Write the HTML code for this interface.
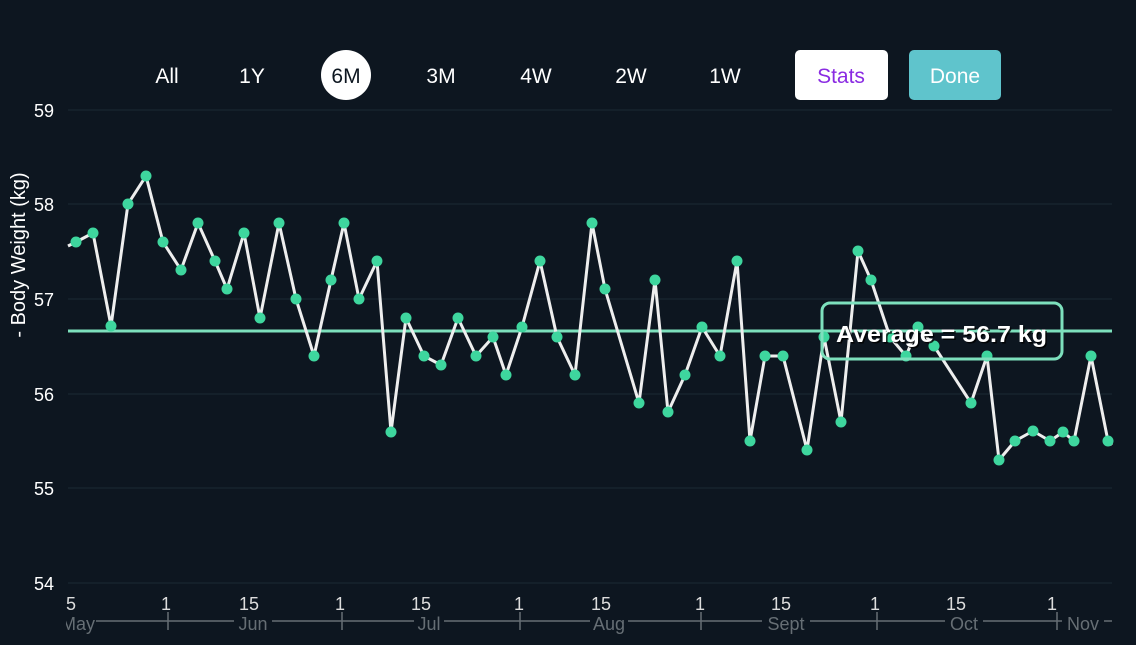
<!DOCTYPE html>
<html><head><meta charset="utf-8"><style>
body{margin:0;background:#0d1620;width:1136px;height:640px;overflow:hidden;font-family:"Liberation Sans",sans-serif}
</style></head><body>
<svg width="1136" height="640" xmlns="http://www.w3.org/2000/svg" font-family="Liberation Sans, sans-serif">
<rect width="1136" height="640" fill="#0d1620"/>
<g fill="#fff" font-size="21" text-anchor="middle">
<text x="167" y="83">All</text><text x="252" y="83">1Y</text>
<circle cx="346" cy="75" r="25" fill="#fff"/><text x="346" y="83" fill="#0d1620">6M</text>
<text x="441" y="83">3M</text><text x="536" y="83">4W</text><text x="631" y="83">2W</text><text x="725" y="83">1W</text>
<rect x="795" y="50" width="93" height="50" rx="5" fill="#fff"/><text x="841" y="83" fill="#8a2be2">Stats</text>
<rect x="909" y="50" width="92" height="50" rx="5" fill="#5fc4cc"/><text x="955" y="83">Done</text>
</g>
<g stroke="#1c2a33" stroke-width="1">
<line x1="68" x2="1112" y1="110" y2="110"/><line x1="68" x2="1112" y1="204" y2="204"/><line x1="68" x2="1112" y1="299" y2="299"/><line x1="68" x2="1112" y1="394" y2="394"/><line x1="68" x2="1112" y1="488" y2="488"/><line x1="68" x2="1112" y1="583" y2="583"/>
</g>
<g fill="#fff" font-size="18" text-anchor="end">
<text x="54" y="117">59</text><text x="54" y="211">58</text><text x="54" y="306">57</text><text x="54" y="401">56</text><text x="54" y="495">55</text><text x="54" y="590">54</text>
</g>
<text transform="translate(25,255) rotate(-90)" fill="#fff" font-size="20" text-anchor="middle">- Body Weight (kg)</text>
<line x1="68" x2="1112" y1="331" y2="331" stroke="#7de0bd" stroke-width="3"/>
<polyline fill="none" stroke="#eee" stroke-width="3" stroke-linejoin="round" points="68,246 76,242 93,233 111,326 128,204 146,176 163,242 181,270 198,223 215,261 227,289 244,233 260,318 279,223 296,299 314,356 331,280 344,223 359,299 377,261 391,432 406,318 424,356 441,365 458,318 476,356 493,337 506,375 522,327 540,261 557,337 575,375 592,223 605,289 639,403 655,280 668,412 685,375 702,327 720,356 737,261 750,441 765,356 783,356 807,450 824,337 841,422 858,251 871,280 890,337 906,356 918,327 934,346 971,403 987,356 999,460 1015,441 1033,431 1050,441 1063,432 1074,441 1091,356 1108,441 1112,445"/>
<g fill="#3ed69e">
<circle cx="76" cy="242" r="5.5"/><circle cx="93" cy="233" r="5.5"/><circle cx="111" cy="326" r="5.5"/><circle cx="128" cy="204" r="5.5"/><circle cx="146" cy="176" r="5.5"/><circle cx="163" cy="242" r="5.5"/><circle cx="181" cy="270" r="5.5"/><circle cx="198" cy="223" r="5.5"/><circle cx="215" cy="261" r="5.5"/><circle cx="227" cy="289" r="5.5"/><circle cx="244" cy="233" r="5.5"/><circle cx="260" cy="318" r="5.5"/><circle cx="279" cy="223" r="5.5"/><circle cx="296" cy="299" r="5.5"/><circle cx="314" cy="356" r="5.5"/><circle cx="331" cy="280" r="5.5"/><circle cx="344" cy="223" r="5.5"/><circle cx="359" cy="299" r="5.5"/><circle cx="377" cy="261" r="5.5"/><circle cx="391" cy="432" r="5.5"/><circle cx="406" cy="318" r="5.5"/><circle cx="424" cy="356" r="5.5"/><circle cx="441" cy="365" r="5.5"/><circle cx="458" cy="318" r="5.5"/><circle cx="476" cy="356" r="5.5"/><circle cx="493" cy="337" r="5.5"/><circle cx="506" cy="375" r="5.5"/><circle cx="522" cy="327" r="5.5"/><circle cx="540" cy="261" r="5.5"/><circle cx="557" cy="337" r="5.5"/><circle cx="575" cy="375" r="5.5"/><circle cx="592" cy="223" r="5.5"/><circle cx="605" cy="289" r="5.5"/><circle cx="639" cy="403" r="5.5"/><circle cx="655" cy="280" r="5.5"/><circle cx="668" cy="412" r="5.5"/><circle cx="685" cy="375" r="5.5"/><circle cx="702" cy="327" r="5.5"/><circle cx="720" cy="356" r="5.5"/><circle cx="737" cy="261" r="5.5"/><circle cx="750" cy="441" r="5.5"/><circle cx="765" cy="356" r="5.5"/><circle cx="783" cy="356" r="5.5"/><circle cx="807" cy="450" r="5.5"/><circle cx="824" cy="337" r="5.5"/><circle cx="841" cy="422" r="5.5"/><circle cx="858" cy="251" r="5.5"/><circle cx="871" cy="280" r="5.5"/><circle cx="890" cy="337" r="5.5"/><circle cx="906" cy="356" r="5.5"/><circle cx="918" cy="327" r="5.5"/><circle cx="934" cy="346" r="5.5"/><circle cx="971" cy="403" r="5.5"/><circle cx="987" cy="356" r="5.5"/><circle cx="999" cy="460" r="5.5"/><circle cx="1015" cy="441" r="5.5"/><circle cx="1033" cy="431" r="5.5"/><circle cx="1050" cy="441" r="5.5"/><circle cx="1063" cy="432" r="5.5"/><circle cx="1074" cy="441" r="5.5"/><circle cx="1091" cy="356" r="5.5"/><circle cx="1108" cy="441" r="5.5"/>
</g>
<rect x="822" y="303" width="240" height="56" rx="8" fill="none" stroke="#7de0bd" stroke-width="3"/>
<text x="836" y="342" fill="#000" font-size="23" font-weight="bold" opacity="0.8" textLength="211" lengthAdjust="spacingAndGlyphs" transform="translate(1.5,1.5)">Average = 56.7 kg</text>
<text x="836" y="342" fill="#fff" font-size="23" font-weight="bold" textLength="211" lengthAdjust="spacingAndGlyphs">Average = 56.7 kg</text>
<g fill="#ddd" font-size="18" text-anchor="middle">
<text x="71" y="610">5</text><text x="166" y="610">1</text><text x="249" y="610">15</text><text x="340" y="610">1</text><text x="421" y="610">15</text><text x="519" y="610">1</text><text x="601" y="610">15</text><text x="700" y="610">1</text><text x="781" y="610">15</text><text x="875" y="610">1</text><text x="956" y="610">15</text><text x="1052" y="610">1</text>
</g>
<g stroke="#666e74" stroke-width="1.5">
<line x1="96" x2="1112" y1="621" y2="621"/>
<line x1="168" x2="168" y1="612" y2="630"/><line x1="342" x2="342" y1="612" y2="630"/><line x1="520" x2="520" y1="612" y2="630"/><line x1="701" x2="701" y1="612" y2="630"/><line x1="877" x2="877" y1="612" y2="630"/><line x1="1057" x2="1057" y1="612" y2="630"/>
</g>
<g fill="#666e74" font-size="18" text-anchor="middle">
<rect x="234" y="612" width="38" height="20" fill="#0d1620"/><text x="253" y="630">Jun</text>
<rect x="414" y="612" width="30" height="20" fill="#0d1620"/><text x="429" y="630">Jul</text>
<rect x="590" y="612" width="38" height="20" fill="#0d1620"/><text x="609" y="630">Aug</text>
<rect x="762" y="612" width="48" height="20" fill="#0d1620"/><text x="786" y="630">Sept</text>
<rect x="945" y="612" width="38" height="20" fill="#0d1620"/><text x="964" y="630">Oct</text>
<rect x="1062" y="612" width="42" height="20" fill="#0d1620"/><text x="1083" y="630">Nov</text>
<rect x="60" y="612" width="36" height="20" fill="#0d1620"/><text x="78" y="630">May</text>
</g>
<rect x="0" y="590" width="66" height="50" fill="#0d1620"/>
</svg>
</body></html>
